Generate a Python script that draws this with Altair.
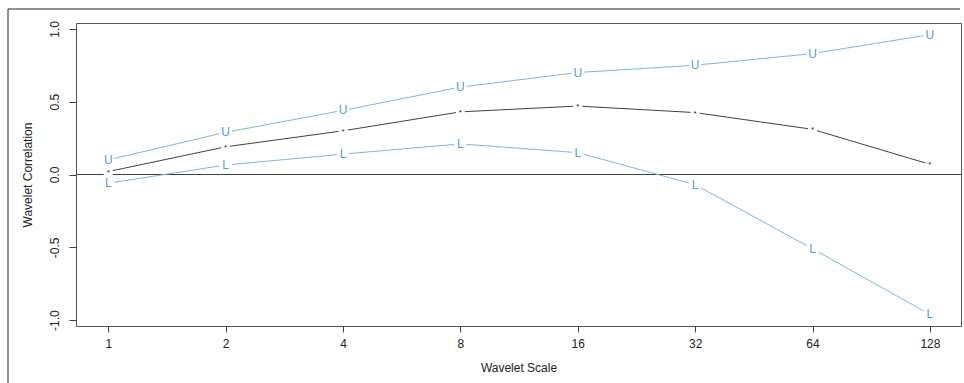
import altair as alt
import pandas as pd

scales = [1, 2, 4, 8, 16, 32, 64, 128]
estimate = [0.02, 0.19, 0.30, 0.43, 0.47, 0.425, 0.31, 0.07]
upper = [0.10, 0.29, 0.44, 0.60, 0.70, 0.75, 0.83, 0.96]
lower = [-0.06, 0.065, 0.14, 0.21, 0.15, -0.07, -0.51, -0.96]

y_ticks = [-1.0, -0.5, 0.0, 0.5, 1.0]

LINE_BLUE = "#7db7da"
TEXT_BLUE = "#4f9fd4"
DARK = "#404040"

df_u = pd.DataFrame({"scale": scales, "value": upper, "lab": "U"})
df_l = pd.DataFrame({"scale": scales, "value": lower, "lab": "L"})
df_e = pd.DataFrame({"scale": scales, "value": estimate, "lab": "*"})
df_b = pd.concat([df_u, df_l], ignore_index=True)
df_b["series"] = df_b["lab"]

x_enc = alt.X(
    "scale:Q",
    scale=alt.Scale(type="log", base=2, domain=[2 ** -0.275, 2 ** 7.265], nice=False, zero=False),
    axis=alt.Axis(
        values=scales,
        labelExpr="format(datum.value, 'd')",
        title="Wavelet Scale",
        grid=False,
        domain=False,
        tickSize=6,
        tickColor=DARK,
        labelPadding=6,
        titlePadding=13,
    ),
)
y_enc = alt.Y(
    "value:Q",
    scale=alt.Scale(domain=[-1.04, 1.04], nice=False, zero=False),
    axis=alt.Axis(
        values=y_ticks,
        labelExpr="(datum.value < 0 ? '-' : '') + format(abs(datum.value), '.1f')",
        labelAngle=-90,
        labelAlign="center",
        labelBaseline="middle",
        title="Wavelet Correlation",
        titleAngle=-90,
        titleAlign="center",
        titleBaseline="middle",
        titleX=-49,
        titleY=151.5,
        grid=False,
        domain=False,
        tickSize=7,
        tickColor=DARK,
        labelPadding=15,
    ),
)

zero_rule = alt.Chart(pd.DataFrame({"z": [0]})).mark_rule(color=DARK, strokeWidth=1).encode(
    y=alt.Y("z:Q", scale=alt.Scale(domain=[-1.04, 1.04], nice=False, zero=False))
)

blue_lines = alt.Chart(df_b).mark_line(color=LINE_BLUE, strokeWidth=1).encode(
    x=x_enc, y=y_enc, detail="series:N"
)
est_line = alt.Chart(df_e).mark_line(color=DARK, strokeWidth=1).encode(x=x_enc, y=y_enc)

gaps_b = alt.Chart(df_b).mark_point(shape="square", filled=True, color="white", opacity=1, size=150).encode(
    x=x_enc, y=y_enc
)
gaps_e = alt.Chart(df_e).mark_point(shape="square", filled=True, color="white", opacity=1, size=80).encode(
    x=x_enc, y=y_enc
)

text_b = alt.Chart(df_b).mark_text(
    color=TEXT_BLUE, font="Liberation Sans", fontSize=12, baseline="middle", align="center"
).encode(x=x_enc, y=y_enc, text="lab:N")
text_e = alt.Chart(df_e).mark_text(
    color="#222222", font="Liberation Sans", fontSize=8, baseline="middle", align="center", dy=1
).encode(x=x_enc, y=y_enc, text="lab:N")

# outer image frame (decoration)
frame_top = alt.Chart(pd.DataFrame({"a": [0]})).mark_rule(color="#222222", strokeWidth=1, clip=False).encode(
    x=alt.value(-68), x2=alt.value(884), y=alt.value(-14)
)
frame_left = alt.Chart(pd.DataFrame({"a": [0]})).mark_rule(color="#222222", strokeWidth=1, clip=False).encode(
    x=alt.value(-68), y=alt.value(-14), y2=alt.value(362)
)

chart = alt.layer(
    zero_rule, blue_lines, est_line, gaps_b, gaps_e, text_b, text_e, frame_top, frame_left
).properties(
    width=885,
    height=303,
    padding={"left": 76, "top": 23, "right": 3, "bottom": 57},
    autosize=alt.AutoSizeParams(type="none"),
    background="white",
).configure_view(
    stroke="#555555", strokeWidth=1
).configure_axis(
    labelFont="Liberation Sans",
    titleFont="Liberation Sans",
    labelFontSize=12,
    titleFontSize=12,
    titleFontWeight="normal",
    labelColor="#222222",
    titleColor="#222222",
)

chart.save("out.html", embed_options={"renderer": "svg", "actions": False})
